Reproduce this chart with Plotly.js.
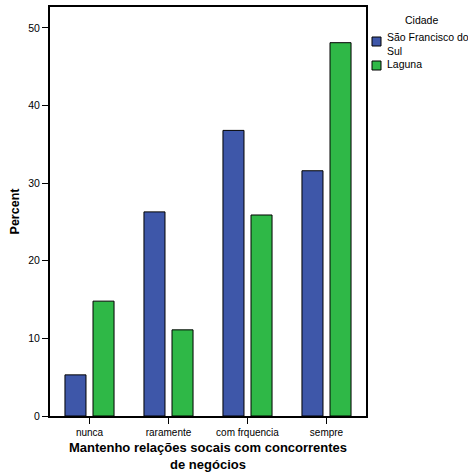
<!DOCTYPE html>
<html>
<head>
<meta charset="utf-8">
<script src="https://cdn.plot.ly/plotly-3.0.1.min.js"></script>
<style>html,body{margin:0;padding:0;background:#fff}#chart{width:468px;height:473px}</style>
</head>
<body>
<div id="chart"></div>
<script>
const categories = ["nunca", "raramente", "com frquencia", "sempre"];
const seriesNames = ["São Francisco do<br>Sul", "Laguna"];
const legendTitle = "Cidade";
const saoFranciscoValues = [5.3, 26.3, 36.8, 31.6];
const lagunaValues = [14.8, 11.1, 25.9, 48.1];
const yTicks = [0, 10, 20, 30, 40, 50];

const font = "Liberation Sans, Arial, sans-serif";
const colors = ["#3e57a9", "#2fb847"];

// plot area in pixels: left 50, width 316, top 7, bottom 416
const L = 50, W = 316, B = 416, H = 409;
const px = x => (x - L) / W;
const py = y => (B - y) / H;

const traces = [
  {type: "bar", name: "São Francisco do Sul", x: categories, y: saoFranciscoValues,
   marker: {color: colors[0], line: {color: "#000", width: 1}}, hoverinfo: "y"},
  {type: "bar", name: seriesNames[1], x: categories, y: lagunaValues,
   marker: {color: colors[1], line: {color: "#000", width: 1}}, hoverinfo: "y"}
];

const legendFont = {family: font, size: 10.5, color: "#000"};
function legText(text, x, y, anchor) {
  return {xref: "paper", yref: "paper", x: px(x), y: py(y), text: text, showarrow: false,
          xanchor: anchor, yanchor: "middle", align: "left", font: legendFont, borderpad: 0};
}
function legBox(y0, color) {
  return {type: "rect", xref: "paper", yref: "paper", x0: px(372), x1: px(381),
          y0: py(y0 + 9), y1: py(y0), fillcolor: color, line: {color: "#000", width: 1}};
}

const layout = {
  width: 468, height: 473,
  margin: {l: 50, r: 102, t: 7, b: 57, autoexpand: false},
  paper_bgcolor: "#fff", plot_bgcolor: "#fff",
  font: {family: font, color: "#000", size: 10},
  barmode: "group", bargap: 0.29, bargroupgap: 0.25,
  showlegend: false,
  shapes: [legBox(37, colors[0]), legBox(61, colors[1])],
  annotations: [
    legText(legendTitle, 421.5, 20, "center"),
    legText(seriesNames[0], 386.5, 43.5, "left"),
    legText(seriesNames[1], 386.5, 64.5, "left")
  ],
  xaxis: {
    showline: true, linecolor: "#000", linewidth: 2, mirror: true,
    ticks: "outside", ticklen: 6, tickcolor: "#000", tickwidth: 1,
    tickfont: {family: font, size: 10, color: "#000"},
    showgrid: false, zeroline: false,
    title: {text: "<b>Mantenho relações socais com concorrentes<br>de negócios</b>",
            font: {family: font, size: 13, color: "#000"}, standoff: 6}
  },
  yaxis: {
    range: [0, 52.7], tickvals: yTicks,
    showline: true, linecolor: "#000", linewidth: 2, mirror: true,
    ticks: "outside", ticklen: 6, tickcolor: "#000", tickwidth: 1,
    tickfont: {family: font, size: 10.5, color: "#000"},
    showgrid: false, zeroline: false,
    title: {text: "<b>Percent</b>", font: {family: font, size: 12.5, color: "#000"}, standoff: 6}
  }
};
Plotly.newPlot("chart", traces, layout, {displayModeBar: false, staticPlot: true});
</script>
</body>
</html>
